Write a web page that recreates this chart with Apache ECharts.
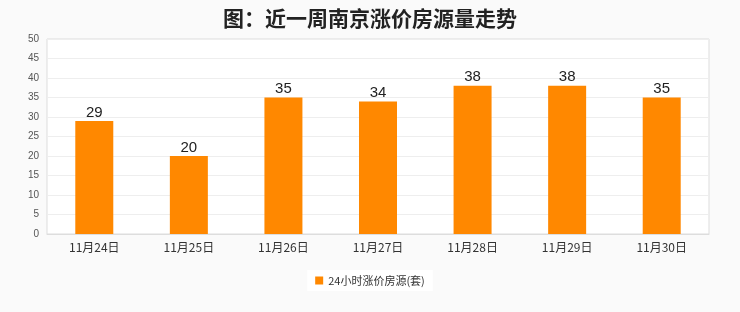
<!DOCTYPE html>
<html><head><meta charset="utf-8">
<script src="https://cdn.jsdelivr.net/npm/echarts@6/dist/echarts.min.js"></script>
<style>html,body{margin:0;padding:0;background:#fafafa;}#c{width:740px;height:312px;}</style>
</head><body><div id="c"></div>
<script>
const categories = ['11月24日','11月25日','11月26日','11月27日','11月28日','11月29日','11月30日'];
const values = [29, 20, 35, 34, 38, 38, 35];
const seriesName = '24小时涨价房源(套)';
const titleText = '图：近一周南京涨价房源量走势';

const chart = echarts.init(document.getElementById('c'));
chart.setOption({
  backgroundColor: '#fafafa',
  animation: false,
  title: {
    text: titleText, left: 'center', top: 3,
    textStyle: {fontSize: 21, fontWeight: 'bold', color: '#222', fontFamily: 'Noto Sans CJK SC'}
  },
  grid: {left: 47, right: 31, top: 39, bottom: 78, show: true, backgroundColor: '#fff', borderColor: '#ddd', borderWidth: 1},
  legend: {
    bottom: 21, left: 'center', itemWidth: 8, itemHeight: 8, icon: 'rect',
    backgroundColor: '#fff', padding: [5, 8],
    textStyle: {fontSize: 11, color: '#333', fontFamily: '"Noto Sans CJK SC"'},
    data: [seriesName]
  },
  xAxis: {
    type: 'category', data: categories,
    axisLine: {show: true, lineStyle: {color: '#ddd'}},
    axisTick: {show: false},
    axisLabel: {color: '#333', fontSize: 12, margin: 7, fontFamily: '"Noto Sans CJK SC"'}
  },
  yAxis: {
    type: 'value', min: 0, max: 50, interval: 5,
    axisLine: {show: false}, axisTick: {show: false},
    axisLabel: {color: '#555', fontSize: 10, margin: 8},
    splitLine: {lineStyle: {color: '#eee'}}
  },
  series: [{
    name: seriesName, type: 'bar', data: values, barWidth: 38,
    itemStyle: {color: '#ff8800'},
    label: {show: true, position: 'top', color: '#222', fontSize: 15, distance: 1}
  }]
});
</script></body></html>
